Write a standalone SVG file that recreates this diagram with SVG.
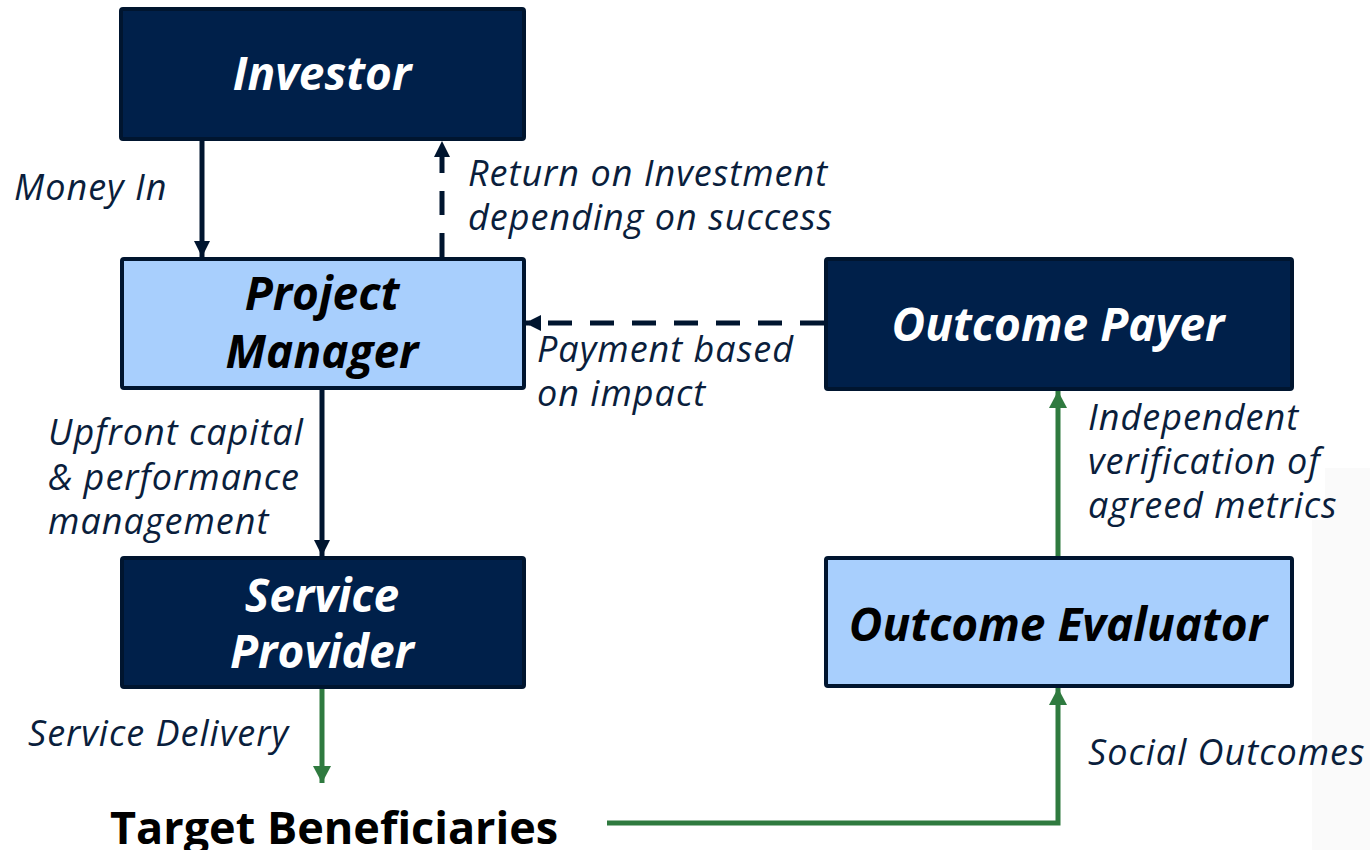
<svg xmlns="http://www.w3.org/2000/svg" width="1370" height="850" viewBox="0 0 1370 850">
  <style>
    .dark { fill: #00204a; stroke: #00152f; stroke-width: 4; }
    .light { fill: #a8cffd; stroke: #00152f; stroke-width: 4; }
    .nlabel { font-family: "Open Sans", "DejaVu Sans", sans-serif; font-weight: bold; font-style: italic; font-size: 46px; text-anchor: middle; }
    .w { fill: #ffffff; }
    .b { fill: #000000; }
    .elabel { font-family: "Open Sans", "DejaVu Sans", sans-serif; font-style: italic; font-size: 36px; letter-spacing: 1px; fill: #0a1e3c; }
    .navy { stroke: #00152f; stroke-width: 5; fill: none; }
    .dash { stroke-dasharray: 24 18; }
    .green { stroke: #2f7a3f; stroke-width: 5; fill: none; }
  </style>
  <defs>
    <marker id="an" markerUnits="userSpaceOnUse" markerWidth="18" markerHeight="18" refX="16" refY="8" orient="auto">
      <path d="M0,0 L16,8 L0,16 Z" fill="#00152f"/>
    </marker>
    <marker id="ag" markerUnits="userSpaceOnUse" markerWidth="20" markerHeight="20" refX="17" refY="9" orient="auto">
      <path d="M0,0 L17,9 L0,18 Z" fill="#2f7a3f"/>
    </marker>
  </defs>
  <rect width="1370" height="850" fill="#ffffff"/>
  <path d="M1325,468 H1370 V850 H1312 V520 H1325 Z" fill="#fafafa"/>

  <g id="connectors">
    <line class="navy" x1="202" y1="140" x2="202" y2="257" marker-end="url(#an)"/>
    <line class="navy dash" x1="442" y1="257" x2="442" y2="141" marker-end="url(#an)"/>
    <line class="navy dash" x1="824" y1="323" x2="525" y2="323" marker-end="url(#an)"/>
    <line class="navy" x1="322" y1="389" x2="322" y2="556" marker-end="url(#an)"/>
    <line class="green" x1="322" y1="688" x2="322" y2="783" marker-end="url(#ag)"/>
    <path class="green" d="M607,823 H1058 V688" marker-end="url(#ag)"/>
    <line class="green" x1="1058" y1="556" x2="1058" y2="391" marker-end="url(#ag)"/>
  </g>

  <g id="edge-labels">
    <text class="elabel" x="14" y="200">Money In</text>
    <text class="elabel"><tspan x="468" y="186">Return on Investment</tspan><tspan x="468" y="230">depending on success</tspan></text>
    <text class="elabel"><tspan x="537" y="362">Payment based</tspan><tspan x="537" y="406">on impact</tspan></text>
    <text class="elabel"><tspan x="48" y="445">Upfront capital</tspan><tspan x="48" y="490">&amp; performance</tspan><tspan x="48" y="534">management</tspan></text>
    <text class="elabel"><tspan x="1088" y="430">Independent</tspan><tspan x="1088" y="474">verification of</tspan><tspan x="1088" y="518">agreed metrics</tspan></text>
    <text class="elabel" x="28" y="746">Service Delivery</text>
    <text class="elabel" x="1088" y="765">Social Outcomes</text>
  </g>

  <g id="investor">
    <rect class="dark" x="121" y="9" width="403" height="130" rx="2"/>
    <text class="nlabel w" x="322" y="90">Investor</text>
  </g>
  <g id="project-manager">
    <rect class="light" x="122" y="259" width="402" height="129" rx="2"/>
    <text class="nlabel b"><tspan x="322" y="310">Project</tspan><tspan x="322" y="368">Manager</tspan></text>
  </g>
  <g id="service-provider">
    <rect class="dark" x="122" y="558" width="402" height="129" rx="2"/>
    <text class="nlabel w"><tspan x="322" y="612">Service</tspan><tspan x="322" y="668">Provider</tspan></text>
  </g>
  <g id="outcome-payer">
    <rect class="dark" x="826" y="259" width="466" height="130" rx="2"/>
    <text class="nlabel w" x="1058" y="341">Outcome Payer</text>
  </g>
  <g id="outcome-evaluator">
    <rect class="light" x="826" y="558" width="466" height="128" rx="2"/>
    <text class="nlabel b" x="1058" y="641">Outcome Evaluator</text>
  </g>
  <g id="target-beneficiaries">
    <text x="110" y="844" font-family="Open Sans, DejaVu Sans, sans-serif" font-weight="bold" font-size="45" fill="#000000">Target Beneficiaries</text>
  </g>
</svg>
